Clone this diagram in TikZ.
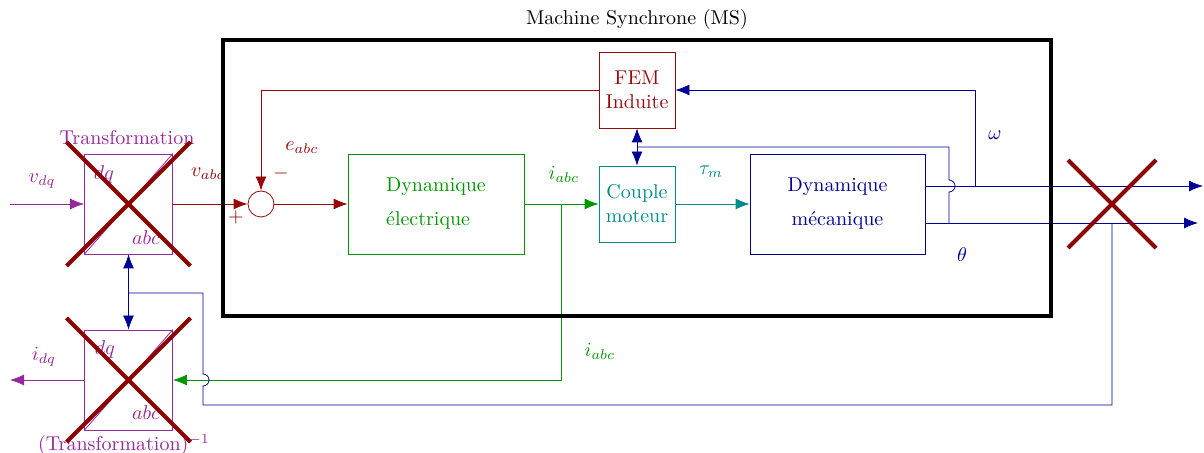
\documentclass[tikz,border=0pt]{standalone}
\usepackage{amsmath,amssymb}
\usepackage{xcolor}
\usepackage{tikz}
\usetikzlibrary{
  arrows.meta,
  calc,
  positioning
}
\definecolor{MsRed}{RGB}{150,10,10}
\definecolor{MsCross}{RGB}{139,0,0}
\definecolor{MsViolet}{RGB}{150,40,155}
\definecolor{MsGreen}{RGB}{0,150,0}
\definecolor{MsTeal}{RGB}{0,140,140}
\definecolor{MsBlue}{RGB}{0,0,150}

\begin{document}
\begin{tikzpicture}[
  x=0.5pt, y=-0.5pt,
  >={Latex[length=7pt,width=5.5pt]},
  box/.style={draw=#1, text=#1, align=center, inner sep=2pt},
  box/.default=black,
  arr/.style={->},
  dblarr/.style={<->},
  xmark/.style={draw=MsCross, line width=2pt},
  lbl/.style={text=#1, inner sep=1pt},
]
  \useasboundingbox (0,0) rectangle (1204,453);

  % blocks of the machine
  \node[box=MsRed, minimum size=38pt] (fem) at (637,90) {FEM\\Induite};
  \node[box=MsGreen, minimum width=88pt, minimum height=50pt, align=left] (elec) at (436,204) {Dynamique\\[5pt]électrique};
  \node[box=MsTeal, minimum size=38pt] (couple) at (637,204) {Couple\\moteur};
  \node[box=MsBlue, minimum width=87.5pt, minimum height=50pt] (meca) at (837.5,204) {Dynamique\\[5pt]mécanique};
  \node[draw=MsRed, circle, minimum size=13pt, inner sep=0pt] (sum) at (261,204) {};

  % transformations
  \node[box=MsViolet, minimum width=44pt, minimum height=50pt] (tr) at (128.5,204) {};
  \node[box=MsViolet, minimum width=44pt, minimum height=50pt] (trinv) at (128.5,380) {};
  \draw[MsViolet] (tr.south west) -- (tr.north east);
  \draw[MsViolet] (trinv.south west) -- (trinv.north east);
  \node[lbl=MsViolet] (trdq) at (104,175) {$dq$};
  \node[lbl=MsViolet] (trabc) at (146,238) {$abc$};
  \node[lbl=MsViolet] (trinvdq) at (105,350) {$dq$};
  \node[lbl=MsViolet] (trinvabc) at (146,413) {$abc$};
  \node[lbl=MsViolet, anchor=base] (trname) at (127,145) {Transformation};
  \node[lbl=MsViolet, anchor=base] (trinvname) at (124,451) {(Transformation)$^{-1}$};

  % free ends and taps
  \coordinate (vdq) at (10,204);
  \coordinate (idq) at (10,380);
  \coordinate (wend) at (1203,186);
  \coordinate (thend) at (1198,223);
  \coordinate (wtap) at (975,186);
  \coordinate (thtap) at (949,223);
  \coordinate (thbus) at (949,147);
  \coordinate (thdown) at (1112,223);
  \coordinate (trbus) at (203,293);
  \coordinate (itap) at (561,204);
  \coordinate (xout) at (1112,204);

  % electrical side
  \draw[arr, MsViolet] (vdq) -- (tr.west);
  \draw[arr, MsRed] (tr.east) -- (sum.west);
  \draw[arr, MsRed] (sum.east) -- (elec.west);
  \draw[arr, MsRed] (fem.west) -| (sum.north);
  \draw[arr, MsGreen] (elec.east) -- (couple.west);
  \draw[arr, MsGreen] (itap) |- (trinv.east);
  \draw[arr, MsViolet] (trinv.west) -- (idq);

  % mechanical side
  \draw[arr, MsTeal] (couple.east) -- (meca.west);
  \draw[arr, MsBlue] ([yshift=9pt]meca.east) -- (wend);
  \draw[arr, MsBlue] (wtap) |- (fem.east);
  \draw[arr, MsBlue] ([yshift=-9.5pt]meca.east) -- (thend);
  \draw[MsBlue] (thtap) -- (949,192) arc[start angle=-90, end angle=90, radius=3pt]
    -- (thbus) -- (fem.south |- thbus);
  \draw[dblarr, MsBlue] (fem.south) -- (couple.north);
  \draw[MsBlue] (thdown) |- (203,405) -- (203,386) arc[start angle=-90, end angle=90, radius=3pt]
    -- (trbus) -- (tr.south |- trbus);
  \draw[dblarr, MsBlue] (tr.south) -- (trinv.north);

  % signal labels
  \node[lbl=MsViolet] (vdqlbl) at (42,181) {$v_{dq}$};
  \node[lbl=MsViolet] (idqlbl) at (44,357) {$i_{dq}$};
  \node[lbl=MsRed] (vabclbl) at (208,174) {$v_{abc}$};
  \node[lbl=MsRed] (pluslbl) at (236,218) {$+$};
  \node[lbl=MsRed] (minuslbl) at (281,174) {$-$};
  \node[lbl=MsRed] (eabclbl) at (302,148) {$e_{abc}$};
  \node[lbl=MsGreen] (iabclbl) at (564,174) {$i_{abc}$};
  \node[lbl=MsGreen] (iabcback) at (600,351) {$i_{abc}$};
  \node[lbl=MsTeal] (taulbl) at (711,172) {$\tau_m$};
  \node[lbl=MsBlue] (wlbl) at (995,135) {$\omega$};
  \node[lbl=MsBlue] (thlbl) at (962,255) {$\theta$};

  % machine frame
  \node[draw, line width=1.6pt, minimum width=414pt, minimum height=138pt,
        label={[label distance=1pt]above:Machine Synchrone (MS)}] (ms) at (637,178) {};

  % crossed out
  \draw[xmark] ($(tr)+(-62,-62)$) -- ($(tr)+(62,62)$);
  \draw[xmark] ($(tr)+(62,-62)$) -- ($(tr)+(-62,62)$);
  \draw[xmark] ($(trinv)+(-62,-62)$) -- ($(trinv)+(62,62)$);
  \draw[xmark] ($(trinv)+(62,-62)$) -- ($(trinv)+(-62,62)$);
  \draw[xmark] ($(xout)+(-44,-44)$) -- ($(xout)+(44,44)$);
  \draw[xmark] ($(xout)+(44,-44)$) -- ($(xout)+(-44,44)$);
\end{tikzpicture}
\end{document}
